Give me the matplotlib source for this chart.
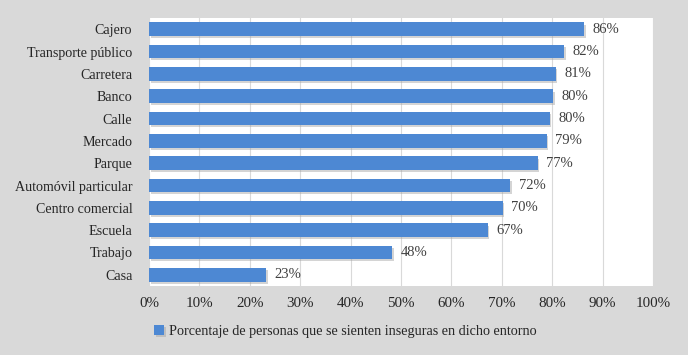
import matplotlib
matplotlib.use("Agg")
import matplotlib.pyplot as plt
import matplotlib.patheffects as pe
from matplotlib.ticker import FuncFormatter, MultipleLocator

categories = ["Cajero", "Transporte público", "Carretera", "Banco", "Calle", "Mercado",
              "Parque", "Automóvil particular", "Centro comercial", "Escuela", "Trabajo", "Casa"]
values = [86, 82, 81, 80, 80, 79, 77, 72, 70, 67, 48, 23]
# exact bar lengths (labels are rounded)
lengths = [86.3, 82.4, 80.7, 80.2, 79.5, 78.9, 77.1, 71.7, 70.2, 67.2, 48.2, 23.3]
series_name = "Porcentaje de personas que se sienten inseguras en dicho entorno"

plt.rcParams['font.family'] = ['Liberation Serif', 'DejaVu Serif']

fig = plt.figure(figsize=(6.88, 3.55), dpi=100)
fig.patch.set_facecolor('#d9d9d9')
ax = fig.add_axes([149/688, 1-286/355, (653-149)/688, (286-18)/355])
ax.set_facecolor('white')

y = list(range(len(categories)))
bars = ax.barh(y, [v/100 for v in lengths], height=0.6, color='#4d88d3', zorder=3,
               label=series_name)
for b in bars:
    b.set_path_effects([pe.SimplePatchShadow(offset=(1.2, -1.5), shadow_rgbFace='#a0a0a0', alpha=0.45),
                        pe.Normal()])
for yi, v, l in zip(y, values, lengths):
    ax.annotate(f"{v}%", (l/100, yi), xytext=(6, 0), textcoords='offset points',
                va='center', ha='left', fontsize=10.5, color='#404040', zorder=4)

ax.set_xlim(0, 1)
ax.set_ylim(len(categories)-0.5, -0.5)
ax.set_yticks(y)
ax.set_yticklabels(categories, fontsize=10.1, color='#262626')
ax.xaxis.set_major_locator(MultipleLocator(0.1))
ax.xaxis.set_major_formatter(FuncFormatter(lambda x, p: f"{round(x*100)}%"))
ax.tick_params(axis='x', labelsize=10.8, colors='#262626', length=0, pad=8)
ax.tick_params(axis='y', length=0, pad=12)
ax.grid(axis='x', color='#d9d9d9', linewidth=0.8, zorder=0)
for s in ax.spines.values():
    s.set_visible(False)

leg = fig.legend(handles=[bars], labels=[series_name], loc='center', bbox_to_anchor=(0.502, 1-331/355),
                 frameon=False, fontsize=10.2, handlelength=0.7, handleheight=0.7, handletextpad=0.3)
for t in leg.get_texts():
    t.set_color('#262626')

fig.savefig("out.png", dpi=100, facecolor=fig.get_facecolor())
